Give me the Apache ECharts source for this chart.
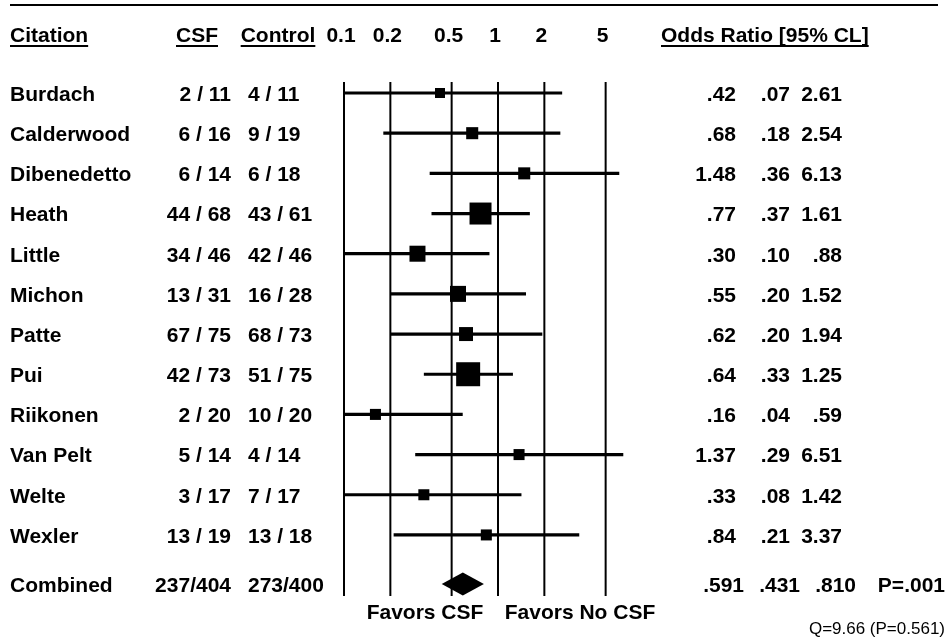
<!DOCTYPE html>
<html>
<head>
<meta charset="utf-8">
<script src="https://cdn.jsdelivr.net/npm/echarts@6/dist/echarts.min.js"></script>
<style>
html, body { margin: 0; padding: 0; background: #fff; }
#main { width: 950px; height: 643px; }
</style>
</head>
<body>
<div id="main"></div>
<script>
// study rows
var studies = ['Burdach', 'Calderwood', 'Dibenedetto', 'Heath', 'Little', 'Michon', 'Patte', 'Pui', 'Riikonen', 'Van Pelt', 'Welte', 'Wexler'];
var csfEvents = ['2 / 11', '6 / 16', '6 / 14', '44 / 68', '34 / 46', '13 / 31', '67 / 75', '42 / 73', '2 / 20', '5 / 14', '3 / 17', '13 / 19'];
var controlEvents = ['4 / 11', '9 / 19', '6 / 18', '43 / 61', '42 / 46', '16 / 28', '68 / 73', '51 / 75', '10 / 20', '4 / 14', '7 / 17', '13 / 18'];
var oddsRatio = [0.42, 0.68, 1.48, 0.77, 0.30, 0.55, 0.62, 0.64, 0.16, 1.37, 0.33, 0.84];
var ciLow = [0.07, 0.18, 0.36, 0.37, 0.10, 0.20, 0.20, 0.33, 0.04, 0.29, 0.08, 0.21];
var ciHigh = [2.61, 2.54, 6.13, 1.61, 0.88, 1.52, 1.94, 1.25, 0.59, 6.51, 1.42, 3.37];
var weights = [3.8, 5.5, 5.5, 18.3, 9.7, 9.7, 7.4, 21.8, 4.6, 4.6, 4.6, 4.6]; // % weight -> box area

// pooled result
var combinedLabel = 'Combined';
var combinedCsf = '237/404';
var combinedControl = '273/400';
var combinedOR = [0.591, 0.431, 0.810];
var combinedP = 'P=.001';
var heterogeneity = 'Q=9.66 (P=0.561)';

var refTicks = [0.1, 0.2, 0.5, 1, 2, 5];
var tickLabels = ['0.1', '0.2', '0.5', '1', '2', '5'];

var FONT = 'Liberation Sans, Arial, Helvetica, sans-serif';
var FS = 21;
var boxScale = 5.14;
var combinedRow = studies.length + 0.22;

function fmt(v, d) {
    return v.toFixed(d).replace(/^0/, '');
}

function textEl(x, y, str, align, size, weight) {
    return {
        type: 'text',
        x: x, y: y,
        style: {
            text: str,
            fill: '#000',
            fontFamily: FONT,
            fontSize: size || FS,
            fontWeight: weight || 'bold',
            textAlign: align || 'left',
            textVerticalAlign: 'middle'
        }
    };
}

// underline widths
var ctx = document.createElement('canvas').getContext('2d');
ctx.font = 'bold ' + FS + 'px ' + FONT;
function tw(s) { return ctx.measureText(s).width; }

var headerY = 36;
var underY = 46;
var headers = [
    { text: 'Citation', x: 10, align: 'left' },
    { text: 'CSF', x: 197, align: 'center' },
    { text: 'Control', x: 278, align: 'center' },
    { text: 'Odds Ratio [95% CL]', x: 661, align: 'left' }
];
var graphics = [
    { type: 'line', shape: { x1: 10, y1: 5, x2: 938, y2: 5 }, style: { stroke: '#000', lineWidth: 2 } },
    textEl(425, 613, 'Favors CSF', 'center'),
    textEl(580, 613, 'Favors No CSF', 'center'),
    textEl(945, 629, heterogeneity, 'right', 17, 'normal')
];
headers.forEach(function (h) {
    var w = tw(h.text);
    var x0 = h.align === 'center' ? h.x - w / 2 : h.x;
    graphics.push(textEl(h.x, headerY, h.text, h.align));
    graphics.push({ type: 'line', shape: { x1: x0, y1: underY, x2: x0 + w, y2: underY }, style: { stroke: '#000', lineWidth: 2 } });
});

var chart = echarts.init(document.getElementById('main'));
var option = {
    backgroundColor: '#fff',
    animation: false,
    grid: { left: 344, right: 298, top: 82, bottom: 47 },
    xAxis: { type: 'log', logBase: 10, min: 0.1, max: 10, show: false },
    yAxis: { type: 'value', inverse: true, min: -0.274, max: 12.52, show: false },
    graphic: graphics,
    series: [
        {
            // reference lines + tick labels
            type: 'custom',
            clip: false,
            data: refTicks.map(function (v) { return [v, 0]; }),
            renderItem: function (params, api) {
                var cs = params.coordSys;
                var x = api.coord([api.value(0), 0])[0];
                return {
                    type: 'group',
                    children: [
                        { type: 'line', shape: { x1: x, y1: cs.y, x2: x, y2: cs.y + cs.height }, style: { stroke: '#000', lineWidth: 2 } },
                        textEl(x - 3, headerY, tickLabels[params.dataIndex], 'center')
                    ]
                };
            }
        },
        {
            // CI lines and weighted boxes
            type: 'custom',
            clip: true,
            data: studies.map(function (s, i) { return [oddsRatio[i], ciLow[i], ciHigh[i], weights[i], i]; }),
            renderItem: function (params, api) {
                var y = api.value(4);
                var a = api.coord([api.value(1), y]);
                var b = api.coord([api.value(2), y]);
                var m = api.coord([api.value(0), y]);
                var s = Math.sqrt(api.value(3)) * boxScale;
                return {
                    type: 'group',
                    children: [
                        { type: 'line', shape: { x1: a[0], y1: a[1], x2: b[0], y2: b[1] }, style: { stroke: '#000', lineWidth: 3.2 } },
                        { type: 'rect', shape: { x: m[0] - s / 2, y: m[1] - s / 2, width: s, height: s }, style: { fill: '#000' } }
                    ]
                };
            }
        },
        {
            // pooled diamond
            type: 'custom',
            clip: false,
            data: [[combinedOR[0], combinedOR[1], combinedOR[2], combinedRow]],
            renderItem: function (params, api) {
                var y = api.value(3);
                var l = api.coord([api.value(1), y]);
                var r = api.coord([api.value(2), y]);
                var m = api.coord([api.value(0), y]);
                var h = 11.5;
                return {
                    type: 'polygon',
                    shape: { points: [[l[0], l[1]], [m[0], m[1] - h], [r[0], r[1]], [m[0], m[1] + h]] },
                    style: { fill: '#000' }
                };
            }
        },
        {
            // table text
            type: 'custom',
            clip: false,
            data: studies.map(function (s, i) { return [1, i]; }).concat([[1, combinedRow]]),
            renderItem: function (params, api) {
                var i = params.dataIndex;
                var y = api.coord([1, api.value(1)])[1] + 2;
                var kids;
                if (i < studies.length) {
                    kids = [
                        textEl(10, y, studies[i], 'left'),
                        textEl(231, y, csfEvents[i], 'right'),
                        textEl(248, y, controlEvents[i], 'left'),
                        textEl(736, y, fmt(oddsRatio[i], 2), 'right'),
                        textEl(790, y, fmt(ciLow[i], 2), 'right'),
                        textEl(842, y, fmt(ciHigh[i], 2), 'right')
                    ];
                } else {
                    kids = [
                        textEl(10, y, combinedLabel, 'left'),
                        textEl(231, y, combinedCsf, 'right'),
                        textEl(248, y, combinedControl, 'left'),
                        textEl(744, y, fmt(combinedOR[0], 3), 'right'),
                        textEl(800, y, fmt(combinedOR[1], 3), 'right'),
                        textEl(856, y, fmt(combinedOR[2], 3), 'right'),
                        textEl(945, y, combinedP, 'right')
                    ];
                }
                return { type: 'group', children: kids };
            }
        }
    ]
};
chart.setOption(option);
</script>
</body>
</html>
